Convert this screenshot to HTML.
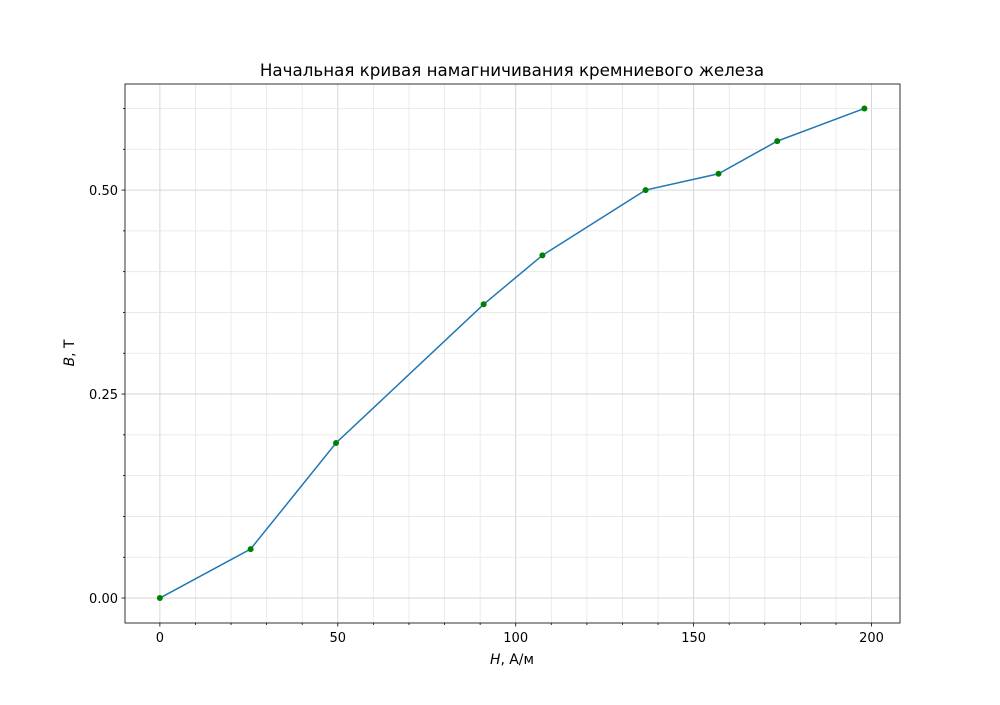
<!DOCTYPE html>
<html><head><meta charset="utf-8"><style>
body{margin:0;background:#fff;}
svg text{font-family:"DejaVu Sans","Liberation Sans",sans-serif;fill:#000;}
</style></head><body>
<svg id="chart" width="1000" height="700" xmlns="http://www.w3.org/2000/svg">
<rect width="1000" height="700" fill="#fff"/>
<g id="grid"></g>
<g id="axes"></g>
<g id="marks"></g>
<text x="512" y="76" font-size="16.7" text-anchor="middle">Начальная кривая намагничивания кремниевого железа</text>
<text x="512" y="664" font-size="13.9" text-anchor="middle"><tspan font-style="italic">H</tspan>, А/м</text>
<text x="0" y="0" font-size="13.9" text-anchor="middle" transform="translate(74,353) rotate(-90)"><tspan font-style="italic">B</tspan>, Т</text>
</svg>
<script>
const hValues=[0,25.5,49.5,91,107.5,136.5,157,173.5,198];
const bValues=[0,0.06,0.19,0.36,0.42,0.50,0.52,0.56,0.60];
const xTicks=[0,50,100,150,200];
const yTicks=[0,0.25,0.5];
const yTickLabels=["0.00","0.25","0.50"];
const L=125,R=900,T=84,B=623;
const xMin=-9.8,xMax=208,yMin=-0.0306,yMax=0.63;
const sx=v=>L+(v-xMin)/(xMax-xMin)*(R-L);
const sy=v=>B-(v-yMin)/(yMax-yMin)*(B-T);
const NS="http://www.w3.org/2000/svg";
function mk(tag,attrs,parent){const e=document.createElementNS(NS,tag);for(const k in attrs)e.setAttribute(k,attrs[k]);document.getElementById(parent).appendChild(e);return e;}
for(let x=0;x<=200;x+=10){const major=x%50===0;
 const l=mk('line',{x1:sx(x),x2:sx(x),y1:T,y2:B,stroke:major?'#d6d6d6':'#e6e6e6','stroke-width':major?1:0.8},'grid');
 
 
 const t=mk('line',{x1:sx(x),x2:sx(x),y1:B,y2:B+(major?3.5:2),stroke:'#000','stroke-width':0.8},'axes');
 
 }
for(let i=0;i<=12;i++){const y=i*0.05;const major=i%5===0;
 const l=mk('line',{x1:L,x2:R,y1:sy(y),y2:sy(y),stroke:major?'#d6d6d6':'#e6e6e6','stroke-width':major?1:0.8},'grid');
 
 
 const t=mk('line',{x1:L-(major?3.5:2),x2:L,y1:sy(y),y2:sy(y),stroke:'#000','stroke-width':0.8},'axes');
 
 }
xTicks.forEach(v=>{const t=mk('text',{x:sx(v),y:B+19,'font-size':13,'text-anchor':'middle'},'axes');t.textContent=v;
 
 });
yTicks.forEach((v,i)=>{const t=mk('text',{x:L-7,y:sy(v)+5,'font-size':13,'text-anchor':'end'},'axes');t.textContent=yTickLabels[i];
 
 });
const fr=mk('rect',{x:L,y:T,width:R-L,height:B-T,fill:'none',stroke:'#000','stroke-width':0.8},'axes');


const pl=mk('polyline',{points:hValues.map((h,i)=>sx(h)+','+sy(bValues[i])).join(' '),fill:'none',stroke:'#1f77b4','stroke-width':1.5},'marks');


hValues.forEach((h,i)=>{const c=mk('circle',{cx:sx(h),cy:sy(bValues[i]),r:3,fill:'#008000'},'marks');
 
 });
</script>
</body></html>
